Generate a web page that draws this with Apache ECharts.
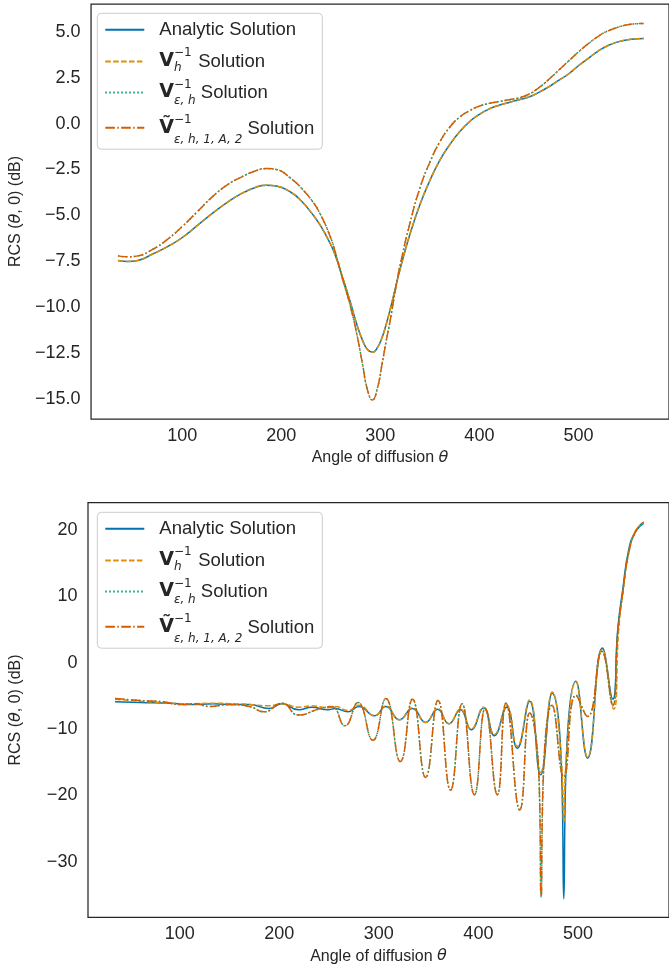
<!DOCTYPE html>
<html>
<head>
<meta charset="utf-8">
<script src="https://cdn.jsdelivr.net/npm/echarts@6/dist/echarts.min.js"></script>
<style>
  html, body { margin: 0; padding: 0; background: #fff; }
  #chart { width: 669px; height: 968px; }
</style>
</head>
<body>
<div id="chart"></div>
<script>
// ---- data ----
const xTicks = [100, 200, 300, 400, 500];
const yTicksTop = [-15, -12.5, -10, -7.5, -5, -2.5, 0, 2.5, 5];
const yTicksBottom = [-30, -20, -10, 0, 10, 20];

const seriesNames = ['Analytic Solution', 'V_h Solution', 'V_eps_h Solution', 'Vtilde Solution'];

// top panel
const thetaTop = [35, 45, 55, 70, 85, 100, 115, 130, 145, 160, 175, 185, 195, 210, 220, 231, 240, 249, 254, 262,
  269, 276, 282, 287, 292, 297, 302, 306, 310, 315, 320, 330, 340, 350, 360, 370, 380, 390, 400, 410,
  420, 430, 440, 450, 460, 470, 480, 490, 500, 510, 520, 530, 540, 550, 560, 566];
const analyticTop = [-7.45, -7.5, -7.45, -7.1, -6.7, -6.2, -5.55, -4.9, -4.3, -3.8, -3.45, -3.35, -3.4, -3.75, -4.2, -4.9, -5.6, -6.5, -7.1, -8.4,
  -9.6, -10.9, -11.8, -12.3, -12.45, -12.2, -11.6, -10.9, -10.1, -9.0, -7.9, -6.0, -4.4, -3.1, -2.0, -1.15, -0.45, 0.1, 0.5, 0.8,
  1.0, 1.15, 1.3, 1.45, 1.7, 2.0, 2.35, 2.7, 3.15, 3.55, 3.95, 4.25, 4.45, 4.57, 4.62, 4.63];
const vhTop = [-7.45, -7.5, -7.45, -7.1, -6.7, -6.2, -5.55, -4.9, -4.3, -3.8, -3.45, -3.35, -3.4, -3.75, -4.2, -4.9, -5.6, -6.5, -7.1, -8.4,
  -9.6, -10.9, -11.8, -12.3, -12.45, -12.2, -11.6, -10.9, -10.1, -9.0, -7.9, -6.0, -4.4, -3.1, -2.0, -1.15, -0.45, 0.1, 0.5, 0.8,
  1.0, 1.15, 1.3, 1.45, 1.7, 2.0, 2.35, 2.7, 3.15, 3.55, 3.95, 4.25, 4.45, 4.57, 4.62, 4.63];
const vehTop = [-7.2, -7.25, -7.2, -6.85, -6.3, -5.6, -4.8, -4.0, -3.35, -2.9, -2.55, -2.45, -2.5, -3.0, -3.5, -4.2, -5.0, -6.1, -6.9, -8.5,
  -9.8, -11.4, -13.1, -14.5, -15.05, -14.4, -13.0, -11.8, -10.7, -9.1, -7.7, -5.4, -3.5, -2.1, -1.0, -0.2, 0.35, 0.7, 0.95, 1.1,
  1.2, 1.3, 1.4, 1.6, 1.95, 2.4, 2.9, 3.4, 3.9, 4.35, 4.75, 5.05, 5.25, 5.38, 5.44, 5.45];
const vtildeTop = [-7.2, -7.25, -7.2, -6.85, -6.3, -5.6, -4.8, -4.0, -3.35, -2.9, -2.55, -2.45, -2.5, -3.0, -3.5, -4.2, -5.0, -6.1, -6.9, -8.5,
  -9.8, -11.4, -13.1, -14.5, -15.05, -14.4, -13.0, -11.8, -10.7, -9.1, -7.7, -5.4, -3.5, -2.1, -1.0, -0.2, 0.35, 0.7, 0.95, 1.1,
  1.2, 1.3, 1.4, 1.6, 1.95, 2.4, 2.9, 3.4, 3.9, 4.35, 4.75, 5.05, 5.25, 5.38, 5.44, 5.45];

// bottom panel
const thetaAnalyticBottom = [35, 60, 91, 110, 134, 155, 170, 189.6, 202.8, 219.4, 232.6, 249, 256, 269, 280, 295.7, 307, 320.6, 333.8, 347,
  359, 370.3, 381.9, 392.8, 405.2, 416.1, 428.4, 439, 451.5, 462.5, 474.1, 483.5, 485.8, 488, 498, 509.7, 524.6, 535, 540, 545,
  551, 558, 566];
const analyticBottom = [-5.9, -6.0, -6.1, -6.3, -6.2, -6.3, -6.3, -6.9, -6.2, -7.1, -6.7, -7.1, -6.9, -7.4, -6.6, -8.0, -6.6, -8.6, -6.9, -9.0,
  -7.0, -9.2, -7.1, -10.1, -6.8, -11.0, -6.7, -12.9, -5.8, -16.9, -4.6, -16, -35.6, -16, -2.8, -14.4, 2.2, -5.5, 5, 11,
  17, 19.8, 21];
const thetaVhBottom = [35, 60, 91, 110, 134, 155, 170, 189.6, 202.8, 219.4, 232.6, 249, 256, 269, 280, 295.7, 307, 320.6, 333.8, 347,
  359, 370.3, 381.9, 392.8, 405.2, 416.1, 428.4, 439, 451.5, 462.5, 474.1, 483.5, 485.8, 488, 498, 509.7, 524.6, 536, 541, 546,
  552, 558, 566];
const vhBottom = [-5.5, -5.8, -6.1, -6.2, -6.1, -6.2, -6.3, -6.5, -6.2, -6.7, -6.5, -6.8, -6.6, -7.2, -6.4, -8.0, -6.5, -8.6, -6.8, -9.0,
  -6.9, -9.2, -7.0, -10.0, -6.7, -10.8, -6.5, -12.6, -5.6, -16.5, -4.4, -15, -24, -15, -2.9, -14.2, 2.0, -7.0, 5, 11.5,
  17.3, 19.9, 21.2];
const thetaTildeBottom = [35, 60, 83, 100, 115, 130, 150, 170, 184.6, 202.8, 219.4, 239.3, 252.5, 265.9, 279, 294, 307, 321.6, 333.8, 347,
  359.4, 372, 383.6, 396, 406.8, 419, 427.7, 441.6, 451.5, 460.8, 463, 465.3, 474, 485.8, 498, 509.7, 524, 535, 540, 545,
  551, 558, 566];
const vehBottom = [-5.4, -5.7, -5.9, -6.3, -6.2, -6.6, -6.3, -6.6, -7.4, -6.1, -7.9, -7.0, -6.6, -9.5, -6.0, -11.7, -5.4, -14.9, -5.5, -17.3,
  -5.7, -19.2, -6.2, -19.9, -6.9, -19.9, -6.1, -22.2, -7.6, -17, -35.3, -17, -6.4, -17.2, -4.9, -8.1, 1.7, -6.4, 4.5, 10.5,
  16.5, 19.8, 21.2];
const vtildeBottom = [-5.4, -5.7, -5.9, -6.3, -6.2, -6.6, -6.3, -6.6, -7.4, -6.1, -7.9, -7.0, -6.6, -9.5, -6.0, -11.7, -5.4, -14.9, -5.5, -17.3,
  -5.7, -19.2, -6.2, -19.9, -6.9, -19.9, -6.1, -22.2, -7.6, -17, -35.3, -17, -6.4, -17.2, -4.9, -8.1, 1.7, -6.4, 4.5, 10.5,
  16.5, 19.8, 21.2];

// ---- styling ----
const FONT = 'Liberation Sans, Arial, sans-serif';
const MATH = 'DejaVu Sans';
const INK = '#262626';
const colors = ['#0173b2', '#de8f05', '#029e73', '#d55e00'];
const dashes = ['solid', [5.5, 2.4], [1.5, 2.5], [9.6, 2.4, 1.5, 2.4]];

const legendLabels = {
  'Analytic Solution': '{a|Analytic Solution}',
  'V_h Solution': '{v2|V}{p2|−1}{s2|h}{t2| Solution}',
  'V_eps_h Solution': '{v3|V}{p3|−1}{s3|ε, h}{t3| Solution}',
  'Vtilde Solution': '{v4|Ṽ}{p4|−1}{s4|ε, h, 1, A, 2}{t4| Solution}'
};

const zip = (xs, ys) => xs.map((x, i) => [x, ys[i]]);
const minusFmt = (digits) => (v) => (v < 0 ? '\u2212' : '') + Math.abs(v).toFixed(digits);

function makeSeries(k, panel, xs, ys) {
  return {
    type: 'line',
    name: seriesNames[k],
    xAxisIndex: panel,
    yAxisIndex: panel,
    data: zip(xs, ys),
    symbol: 'none',
    smooth: 0.5,
    z: 2 + k,
    itemStyle: {color: colors[k]},
    lineStyle: {color: colors[k], width: 1.5, type: dashes[k]}
  };
}

// text token helpers for the legend math
const main = (lh, pad) => ({fontFamily: FONT, fontSize: 18.5, lineHeight: lh, verticalAlign: 'middle', color: INK, padding: pad || 0});
const bold = (lh) => ({fontFamily: MATH, fontWeight: 'bold', fontSize: 19, lineHeight: lh, verticalAlign: 'middle', color: INK});
const sup = (up) => ({fontFamily: MATH, fontSize: 12, lineHeight: 10, width: 0, verticalAlign: 'middle', color: INK, padding: [0, 0, up, 0]});
const sub = (down, w) => {
  const s = {fontFamily: MATH, fontStyle: 'italic', fontSize: 12, lineHeight: 10, verticalAlign: 'middle', color: INK, padding: [down, 0, 0, 0]};
  if (w) s.width = w;
  return s;
};

function makeLegend(top) {
  return {
    orient: 'vertical',
    left: 97.3,
    top: top,
    data: seriesNames,
    itemWidth: 39,
    itemHeight: 12,
    itemGap: 2.4,
    padding: [1.5, 8, 3, 7],
    backgroundColor: 'rgba(255,255,255,0.8)',
    borderColor: '#cccccc',
    borderWidth: 1,
    borderRadius: 4,
    itemStyle: {color: 'rgba(0,0,0,0)', borderColor: 'rgba(0,0,0,0)', borderWidth: 0},
    formatter: (name) => legendLabels[name],
    textStyle: {
      color: INK,
      padding: [0, 0, 0, 10],
      rich: {
        a: main(22, [5.5, 0, 5.5, 0]),
        v2: bold(25.2), p2: sup(16.6), s2: sub(13.4, 19), t2: main(25.2),
        v3: bold(21.2), p3: sup(14.8), s3: sub(16.6), t3: main(21.2),
        v4: bold(34.8), p4: sup(16.4), s4: sub(25), t4: main(34.8, [3.2, 0, 0, 0])
      }
    }
  };
}

function makeXAxis(panel) {
  return {
    type: 'value',
    gridIndex: panel,
    min: 7.8,
    max: 591.5,
    name: 'Angle of diffusion {i|θ}',
    nameLocation: 'middle',
    nameGap: 31,
    nameTextStyle: {
      fontFamily: FONT, fontSize: 16, color: INK,
      rich: {i: {fontFamily: MATH, fontStyle: 'italic', fontSize: 16, color: INK}}
    },
    axisLine: {show: false},
    axisTick: {show: false},
    splitLine: {show: false},
    axisLabel: {customValues: xTicks, margin: 8, fontFamily: FONT, fontSize: 18, color: INK}
  };
}

function makeYAxis(panel, min, max, ticks, digits) {
  return {
    type: 'value',
    gridIndex: panel,
    min: min,
    max: max,
    name: 'RCS ({i|θ}, 0) (dB)',
    nameLocation: 'middle',
    nameGap: 64,
    nameTextStyle: {
      fontFamily: FONT, fontSize: 16, color: INK,
      rich: {i: {fontFamily: MATH, fontStyle: 'italic', fontSize: 16, color: INK}}
    },
    axisLine: {show: false},
    axisTick: {show: false},
    splitLine: {show: false},
    axisLabel: {customValues: ticks, margin: 10.6, fontFamily: FONT, fontSize: 18, color: INK, formatter: minusFmt(digits)}
  };
}

const frame = {show: true, borderColor: INK, borderWidth: 1.25, backgroundColor: '#fff'};

const option = {
  animation: false,
  backgroundColor: '#fff',
  grid: [
    Object.assign({left: 87.3, right: -5, top: 4, height: 415}, frame),
    Object.assign({left: 87.3, right: -5, top: 502.7, height: 414.6}, frame)
  ],
  legend: [makeLegend(13.3), makeLegend(512.3)],
  xAxis: [makeXAxis(0), makeXAxis(1)],
  yAxis: [
    makeYAxis(0, -16.08, 6.51, yTicksTop, 1),
    makeYAxis(1, -38.38, 24.12, yTicksBottom, 0)
  ],
  series: [
    makeSeries(0, 0, thetaTop, analyticTop),
    makeSeries(1, 0, thetaTop, vhTop),
    makeSeries(2, 0, thetaTop, vehTop),
    makeSeries(3, 0, thetaTop, vtildeTop),
    makeSeries(0, 1, thetaAnalyticBottom, analyticBottom),
    makeSeries(1, 1, thetaVhBottom, vhBottom),
    makeSeries(2, 1, thetaTildeBottom, vehBottom),
    makeSeries(3, 1, thetaTildeBottom, vtildeBottom)
  ]
};

const chart = echarts.init(document.getElementById('chart'), null, {renderer: 'canvas'});
chart.setOption(option);
</script>
</body>
</html>
